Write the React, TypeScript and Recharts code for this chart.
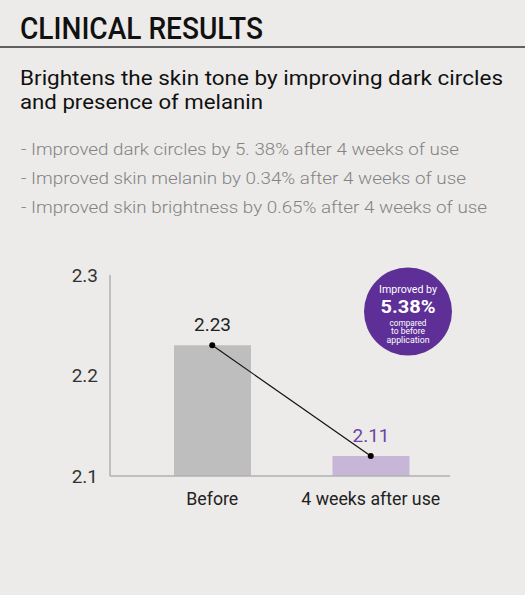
import React from 'react';
import {
  ComposedChart,
  Bar,
  Line,
  Cell,
  XAxis,
  YAxis,
  LabelList
} from 'recharts';

// chart data
const categories = ['Before', '4 weeks after use'];
const values = [2.23, 2.12];
const valueLabels = ['2.23', '2.11'];
const yTicks = [2.1, 2.2, 2.3];

// header texts
const title = 'CLINICAL RESULTS';
const subtitleLines = [
  'Brightens the skin tone by improving dark circles',
  'and presence of melanin'
];
const bulletLines = [
  '- Improved dark circles by 5. 38% after 4 weeks of use',
  '- Improved skin melanin by 0.34% after 4 weeks of use',
  '- Improved skin brightness by 0.65% after 4 weeks of use'
];
const badgeLines = ['Improved by', '5.38%', 'compared', 'to before', 'application'];

const FONT = 'Roboto, "Noto Sans", sans-serif';
const BG = '#ecebe9';
const barColors = ['#bebebe', '#c7b6d8'];
const labelColors = ['#222222', '#6b44a6'];
const xTickWidths = [52, 139];

const data = categories.map((name, i) => ({ name, value: values[i] }));

const XTick = (props: any) => {
  const { x, y, payload, index } = props;
  return (
    <text
      x={x}
      y={y}
      dy={21}
      textAnchor="middle"
      fontFamily={FONT}
      fontSize={18}
      fill="#222"
      textLength={xTickWidths[index]}
      lengthAdjust="spacingAndGlyphs"
    >
      {payload.value}
    </text>
  );
};

const ValueLabel = (props: any) => {
  const { x, y, width, index } = props;
  return (
    <text
      x={x + width / 2}
      y={y - 14}
      textAnchor="middle"
      fontFamily={FONT}
      fontSize={19}
      fill={labelColors[index]}
    >
      {valueLabels[index]}
    </text>
  );
};

const App: React.FC = () => {
  return (
    <div
      style={{
        position: 'absolute',
        left: 0,
        top: 0,
        width: 525,
        height: 595,
        background: BG,
        overflow: 'hidden'
      }}
    >
      {/* header block */}
      <svg width={525} height={240} style={{ position: 'absolute', left: 0, top: 0 }}>
        <text
          x={20}
          y={39}
          fontFamily={FONT}
          fontSize={32}
          fontWeight={500}
          fill="#111"
          textLength={243}
          lengthAdjust="spacingAndGlyphs"
        >
          {title}
        </text>
        <line x1={0} x2={525} y1={47} y2={47} stroke="#333" strokeWidth={1.5} />
        {subtitleLines.map((t, i) => (
          <text
            key={t}
            x={20}
            y={85 + i * 24}
            fontFamily={FONT}
            fontSize={21}
            fontWeight={400}
            fill="#111"
            textLength={i === 0 ? 483 : 243}
            lengthAdjust="spacingAndGlyphs"
          >
            {t}
          </text>
        ))}
        {bulletLines.map((t, i) => (
          <text
            key={t}
            x={21}
            y={155 + i * 29}
            fontFamily={FONT}
            fontSize={17}
            fontWeight={300}
            fill="#838383"
            textLength={[438, 445, 466][i]}
            lengthAdjust="spacingAndGlyphs"
          >
            {t}
          </text>
        ))}
      </svg>

      <div style={{ position: 'absolute', left: 0, top: 0 }}>
        <ComposedChart
          width={525}
          height={595}
          data={data}
          margin={{ top: 275, right: 75, bottom: 89, left: 70 }}
        >
          <XAxis
            dataKey="name"
            height={30}
            padding={{ left: 23, right: 0 }}
            tickLine={false}
            axisLine={{ stroke: '#b0b0b0', strokeWidth: 1.5 }}
            tick={<XTick />}
            interval={0}
          />
          <YAxis
            width={40}
            domain={[2.1, 2.3]}
            ticks={yTicks}
            allowDataOverflow
            tickLine={false}
            tickMargin={6}
            axisLine={{ stroke: '#b0b0b0', strokeWidth: 1.5 }}
            tick={{ fontFamily: FONT, fontSize: 19, fill: '#333' }}
            tickFormatter={(v: number) => v.toFixed(1)}
          />
          <Bar dataKey="value" barSize={77} isAnimationActive={false}>
            {data.map((d, i) => (
              <Cell key={d.name} fill={barColors[i]} />
            ))}
            <LabelList dataKey="value" content={<ValueLabel />} />
          </Bar>
          <Line
            type="linear"
            dataKey="value"
            stroke="#111"
            strokeWidth={1.2}
            dot={{ r: 3, fill: '#000', stroke: '#000', strokeWidth: 0 }}
            activeDot={false}
            isAnimationActive={false}
          />
        </ComposedChart>
      </div>

      {/* improvement badge */}
      <svg width={525} height={595} style={{ position: 'absolute', left: 0, top: 0, pointerEvents: 'none' }}>
        <circle cx={408} cy={311.5} r={44} fill="#5e2f96" />
        <text x={408} y={292.5} textAnchor="middle" fontFamily={FONT} fontSize={11.5} fill="#fff"
          textLength={58} lengthAdjust="spacingAndGlyphs">{badgeLines[0]}</text>
        <text x={408} y={313} textAnchor="middle" fontFamily={FONT} fontSize={19} fontWeight={700} fill="#fff"
          textLength={55} lengthAdjust="spacingAndGlyphs">{badgeLines[1]}</text>
        <text x={408} y={325.5} textAnchor="middle" fontFamily={FONT} fontSize={9} fill="#fff"
          textLength={37} lengthAdjust="spacingAndGlyphs">{badgeLines[2]}</text>
        <text x={408} y={334} textAnchor="middle" fontFamily={FONT} fontSize={9} fill="#fff"
          textLength={34} lengthAdjust="spacingAndGlyphs">{badgeLines[3]}</text>
        <text x={408} y={342.5} textAnchor="middle" fontFamily={FONT} fontSize={9} fill="#fff"
          textLength={43} lengthAdjust="spacingAndGlyphs">{badgeLines[4]}</text>
      </svg>
    </div>
  );
};

export default App;
